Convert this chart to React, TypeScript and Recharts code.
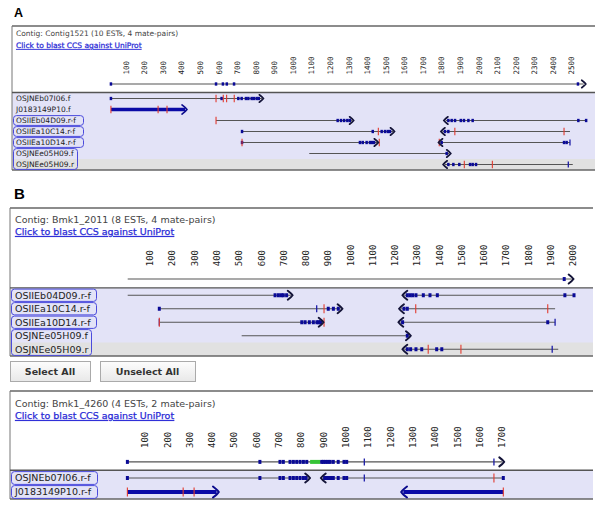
import React from "react";
import { ScatterChart, Scatter, XAxis, YAxis, ReferenceLine } from "recharts";

// rows: -1 is the consensus line, 0.. are the reads
type Seg = [number, number, number]; // row, start, end
type Pt = [number, number]; // row, position
type Arw = [number, number, number]; // row, position, direction

// ---------- A: Contig1521 ----------
const aReads = ["OSJNEb07I06.f", "J0183149P10.f", "OSIIEb04D09.r-f", "OSIIEa10C14.r-f", "OSIIEa10D14.r-f", "OSJNEe05H09.f", "OSJNEe05H09.r"];
const aGroups: [number, number][] = [[2, 2], [3, 3], [4, 4], [5, 6]];
const aTicks = [100, 200, 300, 400, 500, 600, 700, 800, 900, 1000, 1100, 1200, 1300, 1400, 1500, 1600, 1700, 1800, 1900, 2000, 2100, 2200, 2300, 2400, 2500];
const aLines: Seg[] = [[-1, 19, 2565], [0, 19, 832], [2, 585, 1318], [2, 1822, 2578], [3, 725, 1538], [3, 1805, 2491], [4, 725, 1455], [4, 1792, 2491], [5, 1087, 1840], [6, 1817, 2506]];
const aBars: Seg[] = [[1, 19, 418]];
const aArrows: Arw[] = [[-1, 2572, 1], [0, 836, 1], [1, 424, 1], [2, 1322, 1], [2, 1816, -1], [3, 1542, 1], [3, 1800, -1], [4, 1455, 1], [4, 1787, -1], [5, 1845, 1], [6, 1812, -1]];
const aDots: Pt[] = [[-1, 19], [-1, 585], [-1, 622], [-1, 643], [-1, 682], [-1, 2534], [0, 19], [0, 615], [0, 705], [0, 723], [0, 746], [0, 759], [0, 777], [0, 789], [0, 804], [0, 815], [2, 1240], [2, 1258], [2, 1275], [2, 1292], [2, 1305], [2, 1836], [2, 1854], [2, 1872], [2, 1903], [2, 1920], [2, 1944], [2, 1967], [2, 2536], [2, 2578], [3, 725], [3, 1429], [3, 1477], [3, 1495], [3, 1510], [3, 1522], [3, 1818], [3, 1836], [4, 725], [4, 1360], [4, 1375], [4, 1396], [4, 1414], [4, 1425], [4, 1436], [4, 1800], [4, 2459], [4, 2473], [5, 1827], [6, 1836], [6, 1863], [6, 1895], [6, 1953], [6, 1967], [6, 1985]];
const aRed: Pt[] = [[0, 585], [0, 624], [0, 642], [0, 683], [1, 19], [1, 273], [1, 321], [2, 585], [3, 1459], [3, 1871], [3, 2459], [4, 725], [4, 1464], [4, 1787], [6, 1922], [6, 2073]];
const aBlue: Pt[] = [[4, 2491], [6, 2482]];
const aGreen: Seg[] = [];

// ---------- B: Bmk1_2011 ----------
const bReads = ["OSIIEb04D09.r-f", "OSIIEa10C14.r-f", "OSIIEa10D14.r-f", "OSJNEe05H09.f", "OSJNEe05H09.r"];
const bGroups: [number, number][] = [[0, 0], [1, 1], [2, 2], [3, 4]];
const bTicks = [100, 200, 300, 400, 500, 600, 700, 800, 900, 1000, 1100, 1200, 1300, 1400, 1500, 1600, 1700, 1800, 1900, 2000];
const bLines: Seg[] = [[-1, 0, 1995], [0, 0, 733], [0, 1242, 2005], [1, 142, 956], [1, 1228, 1920], [2, 142, 871], [2, 1225, 1920], [3, 512, 1262], [4, 1242, 1934]];
const bBars: Seg[] = [];
const bArrows: Arw[] = [[-1, 1999, 1], [0, 737, 1], [0, 1238, -1], [1, 961, 1], [1, 1223, -1], [2, 876, 1], [2, 1220, -1], [3, 1268, 1], [4, 1238, -1]];
const bDots: Pt[] = [[-1, 1961], [0, 662], [0, 677], [0, 690], [0, 699], [0, 714], [0, 1256], [0, 1268], [0, 1280], [0, 1295], [0, 1328], [0, 1358], [0, 1391], [0, 1964], [0, 2005], [1, 142], [1, 901], [1, 924], [1, 946], [1, 1241], [1, 1256], [2, 782], [2, 797], [2, 816], [2, 834], [2, 850], [2, 858], [2, 866], [2, 1235], [2, 1887], [3, 1256], [4, 1256], [4, 1271], [4, 1295], [4, 1321], [4, 1388], [4, 1411]];
const bRed: Pt[] = [[1, 882], [1, 1294], [1, 1887], [2, 142], [2, 882], [4, 1350], [4, 1497]];
const bBlue: Pt[] = [[1, 849], [2, 142], [2, 1920], [4, 1907]];
const bGreen: Seg[] = [];

// ---------- C: Bmk1_4260 ----------
const cReads = ["OSJNEb07I06.r-f", "J0183149P10.r-f"];
const cGroups: [number, number][] = [[0, 0], [1, 1]];
const cTicks = [100, 200, 300, 400, 500, 600, 700, 800, 900, 1000, 1100, 1200, 1300, 1400, 1500, 1600, 1700];
const cLines: Seg[] = [[-1, 21, 1700], [0, 21, 832], [0, 897, 1706]];
const cBars: Seg[] = [[1, 21, 421], [1, 1258, 1706]];
const cArrows: Arw[] = [[-1, 1706, 1], [0, 836, 1], [0, 892, -1], [1, 427, 1], [1, 1252, -1]];
const cDots: Pt[] = [[-1, 21], [-1, 615], [-1, 705], [-1, 720], [-1, 750], [-1, 765], [-1, 780], [-1, 795], [-1, 810], [-1, 825], [-1, 892], [-1, 900], [-1, 910], [-1, 920], [-1, 930], [-1, 944], [-1, 966], [-1, 992], [-1, 1004], [0, 21], [0, 615], [0, 705], [0, 720], [0, 750], [0, 765], [0, 780], [0, 795], [0, 810], [0, 822], [0, 905], [0, 915], [0, 925], [0, 935], [0, 944], [0, 966], [0, 992], [0, 1004], [0, 1706]];
const cRed: Pt[] = [[0, 1664], [1, 21], [1, 271], [1, 320], [1, 1706]];
const cBlue: Pt[] = [[-1, 1083], [-1, 1664], [0, 1083]];
const cGreen: Seg[] = [[-1, 840, 885]];

const FONT = "DejaVu Sans";

const panels = [
  {
    key: "A", title: "A", titleY: 17, titleFs: 12.5,
    header: "Contig: Contig1521 (10 ESTs, 4 mate-pairs)", headerY: 36, linkY: 48,
    left: 12, right: 595, boxTop: 26, bottom: 170, chartTop: 50,
    x0: 107.4, scale: 0.1857, gap: 11, consY: -1.32, fs: 7.5, tickFs: 7.5, k: 0.83,
    labelX: 16, boxW: [70, 70, 70, 64], lastGray: true,
    reads: aReads, groups: aGroups, ticks: aTicks,
    lines: aLines, bars: aBars, arrows: aArrows, dots: aDots, red: aRed, blue: aBlue, green: aGreen,
  },
  {
    key: "B", title: "B", titleY: 199, titleFs: 15,
    header: "Contig: Bmk1_2011 (8 ESTs, 4 mate-pairs)", headerY: 223, linkY: 235,
    left: 10, right: 593, boxTop: 208, bottom: 356, chartTop: 238,
    x0: 127.7, scale: 0.2226, gap: 13.5, consY: -1.2, fs: 9.5, tickFs: 9, k: 1,
    labelX: 15, boxW: [85, 85, 85, 80], lastGray: true,
    reads: bReads, groups: bGroups, ticks: bTicks,
    lines: bLines, bars: bBars, arrows: bArrows, dots: bDots, red: bRed, blue: bBlue, green: bGreen,
  },
  {
    key: "C", title: "", titleY: 0, titleFs: 15,
    header: "Contig: Bmk1_4260 (4 ESTs, 2 mate-pairs)", headerY: 407, linkY: 419,
    left: 10, right: 593, boxTop: 391, bottom: 499, chartTop: 426,
    x0: 122.7, scale: 0.2231, gap: 14, consY: -1.15, fs: 9.5, tickFs: 9, k: 1,
    labelX: 15, boxW: [86, 86], lastGray: false,
    reads: cReads, groups: cGroups, ticks: cTicks,
    lines: cLines, bars: cBars, arrows: cArrows, dots: cDots, red: cRed, blue: cBlue, green: cGreen,
  },
];

type Panel = (typeof panels)[number];

const plotTopOf = (p: Panel) => p.bottom - (p.reads.length + 1.5) * p.gap;

function PanelDeco({ p }: { p: Panel }) {
  const n = p.reads.length;
  const plotTop = plotTopOf(p);
  const rowC = (r: number) => plotTop + (r + 2) * p.gap;
  const sepY = plotTop + 1.45 * p.gap;
  const w = p.right - p.left;
  const lastTop = rowC(n - 1) - p.gap / 2;
  return (
    <g>
      {p.title && (
        <text x={14} y={p.titleY} fontFamily="Liberation Sans" fontWeight="bold" fontSize={p.titleFs} fill="#000">{p.title}</text>
      )}
      <rect x={p.left} y={sepY} width={w} height={p.bottom - sepY} fill="#e3e3f7" />
      {p.lastGray && <rect x={p.left} y={lastTop} width={w} height={p.bottom - lastTop} fill="#e1e1e1" />}
      <line x1={p.left} x2={p.right} y1={p.boxTop} y2={p.boxTop} stroke="#8c8c8c" strokeWidth={2} />
      <line x1={p.left} x2={p.left} y1={p.boxTop} y2={p.bottom} stroke="#777" strokeWidth={1} />
      <line x1={p.left} x2={p.right} y1={sepY} y2={sepY} stroke="#555" strokeWidth={1.4} />
      <line x1={p.left} x2={p.right} y1={p.bottom} y2={p.bottom} stroke="#666" strokeWidth={1.6} />
      <text x={p.labelX} y={p.headerY} fontFamily={FONT} fontSize={p.fs} fill="#444">{p.header}</text>
      <text x={p.labelX} y={p.linkY} fontFamily={FONT} fontSize={p.fs} fill="#2a2ad6" stroke="#2a2ad6" strokeWidth={0.25} textDecoration="underline">Click to blast CCS against UniProt</text>
      {p.reads.map((r, i) => (
        <text key={r + i} x={p.labelX} y={rowC(i) + p.fs * 0.36} fontFamily={FONT} fontSize={p.fs} fill="#222">{r}</text>
      ))}
      {p.groups.map(([r1, r2], i) => (
        <rect key={i} x={p.left + 1.5} y={rowC(r1) - p.gap / 2 + 0.6} width={p.boxW[i]} height={(r2 - r1 + 1) * p.gap - 1.2}
          rx={3} fill="none" stroke="#4b4bdc" strokeWidth={1} />
      ))}
    </g>
  );
}

function Buttons() {
  const btn = (x: number, w: number, label: string) => (
    <g>
      <rect x={x + 0.5} y={361.5} width={w} height={20} fill="url(#btng)" stroke="#aaa" strokeWidth={1} />
      <text x={x + w / 2} y={375} textAnchor="middle" fontFamily={FONT} fontWeight="bold" fontSize={9.5} fill="#333">{label}</text>
    </g>
  );
  return (
    <g>
      <defs>
        <linearGradient id="btng" x1="0" y1="0" x2="0" y2="1">
          <stop offset="0" stopColor="#fdfdfd" />
          <stop offset="1" stopColor="#e8e8e8" />
        </linearGradient>
      </defs>
      {btn(10, 80, "Select All")}
      {btn(100, 95, "Unselect All")}
    </g>
  );
}

function RotTick(props: any) {
  const { x, payload, y0, fs } = props;
  const bx = x + fs * 0.36;
  return (
    <text x={bx} y={y0} transform={`rotate(-90 ${bx} ${y0})`} fontFamily="DejaVu Sans Mono" fontSize={fs} fill="#222">
      {payload.value}
    </text>
  );
}

function Track({ p }: { p: Panel }) {
  const n = p.reads.length;
  const plotTop = plotTopOf(p);
  const axisH = plotTop - p.chartTop;
  const yOf = (r: number) => (r < 0 ? p.consY : r);
  const xMax = (p.right - p.x0) / p.scale;
  const k = p.k;
  const pts = (a: Pt[]) => a.map(([r, x]) => ({ x, y: yOf(r) }));
  const arrows = p.arrows.map(([r, x, d]) => ({ x, y: yOf(r), d, thick: p.bars.some(([br, s, e]) => br === r && x >= s - 10 && x <= e + 10) }));

  const dotShape = (s: any) => <rect x={s.cx - 1.5 * k} y={s.cy - 2 * k} width={3 * k} height={4 * k} fill="#0a0a96" />;
  const redShape = (s: any) => <line x1={s.cx} x2={s.cx} y1={s.cy - 4.5 * k} y2={s.cy + 4.5 * k} stroke="#e23a2e" strokeWidth={1.1} />;
  const blueShape = (s: any) => <line x1={s.cx} x2={s.cx} y1={s.cy - 3.5 * k} y2={s.cy + 3.5 * k} stroke="#1c1ca8" strokeWidth={1.3} />;
  const arrowShape = (s: any) => {
    const d = s.payload.d;
    const h = (s.payload.thick ? 5.5 : 4.5) * k;
    const a = (s.payload.thick ? 5 : 4) * k;
    const path = `M${s.cx - d * a},${s.cy - h} Q${s.cx - d * a * 0.1},${s.cy - h * 0.4} ${s.cx + d * 0.8},${s.cy} Q${s.cx - d * a * 0.1},${s.cy + h * 0.4} ${s.cx - d * a},${s.cy + h}`;
    return <path d={path} fill="none" stroke={s.payload.thick ? "#0b0b8c" : "#141438"} strokeWidth={2 * k} strokeLinecap="round" />;
  };

  return (
    <div style={{ position: "absolute", left: p.left, top: p.chartTop }}>
      <ScatterChart width={p.right - p.left} height={p.bottom - p.chartTop} margin={{ top: 0, right: 0, bottom: 0, left: p.x0 - p.left }}>
        <XAxis type="number" dataKey="x" orientation="top" domain={[0, xMax]} allowDataOverflow ticks={p.ticks} interval={0}
          height={axisH} axisLine={false} tickLine={false} tick={(t: any) => <RotTick {...t} y0={axisH - 2} fs={p.tickFs} />} />
        <YAxis type="number" dataKey="y" hide reversed domain={[-2, n - 0.5]} allowDataOverflow />
        {p.lines.map(([r, s, e], i) => (
          <ReferenceLine key={"l" + i} segment={[{ x: s, y: yOf(r) }, { x: e, y: yOf(r) }]} stroke="#555" strokeWidth={1.1} />
        ))}
        {p.bars.map(([r, s, e], i) => (
          <ReferenceLine key={"b" + i} segment={[{ x: s, y: yOf(r) }, { x: e, y: yOf(r) }]} stroke="#0a0aa6" strokeWidth={4.2 * k} />
        ))}
        {p.green.map(([r, s, e], i) => (
          <ReferenceLine key={"g" + i} segment={[{ x: s, y: yOf(r) }, { x: e, y: yOf(r) }]} stroke="#36c436" strokeWidth={4 * k} />
        ))}
        <Scatter data={pts(p.dots)} shape={dotShape} isAnimationActive={false} />
        <Scatter data={pts(p.blue)} shape={blueShape} isAnimationActive={false} />
        <Scatter data={pts(p.red)} shape={redShape} isAnimationActive={false} />
        <Scatter data={arrows} shape={arrowShape} isAnimationActive={false} />
      </ScatterChart>
    </div>
  );
}

export default function App() {
  return (
    <div style={{ position: "absolute", left: 0, top: 0, width: 600, height: 509, background: "#fff", overflow: "hidden" }}>
      <svg width={600} height={509} style={{ position: "absolute", left: 0, top: 0 }}>
        {panels.map((p) => <PanelDeco key={p.key} p={p} />)}
        <Buttons />
      </svg>
      {panels.map((p) => <Track key={p.key} p={p} />)}
    </div>
  );
}
